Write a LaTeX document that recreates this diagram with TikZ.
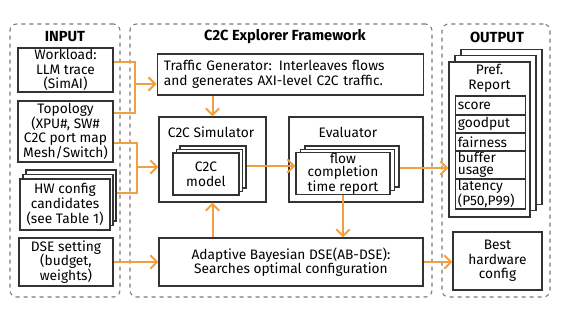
\documentclass[tikz,border=0pt]{standalone}
\usepackage{fontspec}
\setmainfont{Fira Sans}
\usetikzlibrary{arrows.meta, positioning, calc}
\definecolor{FlowOrange}{HTML}{F0A040}
\definecolor{BoxGray}{HTML}{333333}
\definecolor{GroupGray}{HTML}{7A7A7A}

\begin{document}
\begin{tikzpicture}[x=0.75pt, y=-0.75pt, font=\fontsize{10.3}{11}\selectfont,
    group/.style={draw=GroupGray, dashed, rounded corners=5pt, line width=0.8pt},
    box/.style={draw=BoxGray, fill=white, line width=0.9pt, align=center, inner sep=0.5pt},
    cell/.style={box, text width=49pt, align=left, inner xsep=1.5pt, font=\fontsize{10.3}{9.4}\selectfont},
    wire/.style={draw=FlowOrange, line width=1.5pt},
    flow/.style={wire, -{Straight Barb[length=5pt, width=10pt]}}]
        \useasboundingbox (0,0) rectangle (562,316);

        % Groups
        \node[group, minimum width=82.5pt, minimum height=204.75pt] (input) at (65,160.5) {};
        \node[group, minimum width=226.5pt, minimum height=204.75pt] (frame) at (281,160.5) {};
        \node[group, minimum width=81pt, minimum height=204.75pt] (output) at (496,160.5) {};
        \node[font=\fontsize{11}{12}\selectfont\bfseries] (intitle) at (65,37) {INPUT};
        \node[font=\fontsize{11}{12}\selectfont\bfseries] (frametitle) at (285,37) {C2C Explorer Framework};
        \node[font=\fontsize{11}{12}\selectfont\bfseries] (outtitle) at (497,37) {OUTPUT};

        % Inputs
        \node[box, minimum width=71.25pt, minimum height=33pt] (workload) at (65.5,70) {Workload:\\LLM trace\\(SimAI)};
        \node[box, minimum width=71.25pt, minimum height=45.75pt] (topology) at (65.5,131.5) {Topology\\(XPU\#, SW\#\\C2C port map\\Mesh/Switch)};
        \node[box, minimum width=67.5pt, minimum height=38.25pt] (hw3) at (71,195.5) {};
        \node[box, minimum width=67.5pt, minimum height=38.25pt] (hw2) at (68,200) {};
        \node[box, minimum width=67.5pt, minimum height=38.25pt] (hw) at (65,204.5) {HW config\\candidates\\(see Table 1)};
        \node[box, minimum width=70.5pt, minimum height=36pt] (dse) at (66,262) {DSE setting\\(budget,\\weights)};

        % Framework
        \node[box, minimum width=198.75pt, minimum height=30.75pt, text width=190pt, align=left, inner xsep=5pt] (traffic) at (290.5,74.5) {Traffic Generator: Interleaves flows\\and generates AXI-level C2C traffic.};
        \node[box, minimum width=80.25pt, minimum height=63.75pt] (sim) at (212.5,159.5) {};
        \node (simtitle) at (211,132) {C2C Simulator};
        \node[box, minimum width=49.5pt, minimum height=31.5pt] (model3) at (213,167) {};
        \node[box, minimum width=49.5pt, minimum height=31.5pt] (model2) at (209.5,170.5) {};
        \node[box, minimum width=49.5pt, minimum height=31.5pt] (model) at (206,174) {C2C\\model};
        \node[box, minimum width=100.5pt, minimum height=63.75pt] (eval) at (356,159.5) {};
        \node (evaltitle) at (348,132) {Evaluator};
        \node[box, minimum width=70.5pt, minimum height=30.75pt] (flow3) at (352,166.5) {};
        \node[box, minimum width=70.5pt, minimum height=30.75pt] (flow2) at (347.5,170) {};
        \node[box, minimum width=70.5pt, minimum height=30.75pt, font=\fontsize{10.3}{9.6}\selectfont] (fct) at (343,173.5) {flow\\completion\\time report};
        \node[box, minimum width=198pt, minimum height=36pt] (abdse) at (291,262) {Adaptive Bayesian DSE(AB-DSE):\\Searches optimal configuration};

        % Outputs
        \node[box, minimum width=60.75pt, minimum height=116.25pt] (pref3) at (501.5,126.9) {};
        \node[box, minimum width=60.75pt, minimum height=116.25pt] (pref2) at (495.5,133.2) {};
        \node[box, minimum width=60.75pt, minimum height=116.25pt] (pref) at (489.5,139.5) {};
        \node[align=center] (preftitle) at (489.5,78) {Pref.\\Report};
        \node[cell, minimum height=14.25pt] (score) at (490.5,105.5) {score};
        \node[cell, minimum height=13.5pt] (goodput) at (490.5,124) {goodput};
        \node[cell, minimum height=13.5pt] (fairness) at (490.5,142) {fairness};
        \node[cell, minimum height=21pt] (buffer) at (490.5,165) {buffer\\usage};
        \node[cell, minimum height=22.5pt] (latency) at (490.5,194) {latency\\(P50,P99)};
        \node[box, minimum width=66.75pt, minimum height=43.5pt] (best) at (497.5,261) {Best\\hardware\\config};

        % Connectors
        \coordinate (j1) at (135,84);
        \coordinate (j2) at (137,167);
        \draw[wire] (workload.east |- 0,62) -| (j1) |- (topology.east |- 0,113);
        \draw[flow] (j1) -- (traffic.west |- j1);
        \draw[wire] (topology.east |- 0,143) -| (j2) |- (hw3.east |- 0,193);
        \draw[flow] (j2) -- (sim.west |- j2);
        \draw[flow] (dse.east) -- (abdse.west);
        \draw[flow] (traffic.south -| sim.north) -- (sim.north);
        \draw[flow] (model3.east |- 0,166) -- (fct.west |- 0,166);
        \draw[flow] (fct.south) -- (fct.south |- abdse.north);
        \draw[flow] (abdse.north -| sim.south) -- (sim.south);
        \draw[flow] (flow3.east |- 0,168) -- (pref.west |- 0,168);
        \draw[flow] (abdse.east) -- (best.west |- abdse.east);
    \end{tikzpicture}
\end{document}
